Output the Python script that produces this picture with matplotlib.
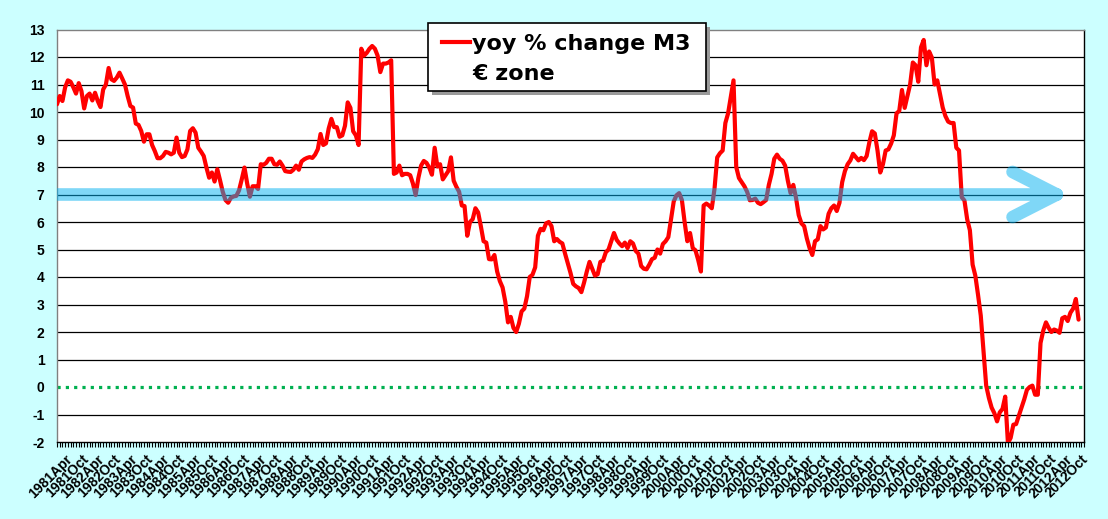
import matplotlib
matplotlib.use("Agg")
import matplotlib.pyplot as plt
import numpy as np
from matplotlib.path import Path
from matplotlib.patches import PathPatch, Rectangle
from matplotlib.lines import Line2D

# ---- data: yoy % change of M3, euro zone, monthly from 1981 Apr ----
m3_yoy = [
    10.28, 10.58, 10.4, 10.9, 11.15, 11.1, 10.9, 10.67, 11.05, 10.76,
    10.13, 10.58, 10.67, 10.42, 10.7, 10.4, 10.18, 10.82, 11.0, 11.6,
    11.19, 11.13, 11.25, 11.43, 11.22, 11.0, 10.58, 10.22, 10.16, 9.58,
    9.53, 9.31, 8.92, 9.19, 9.19, 8.8, 8.58, 8.32, 8.32, 8.4,
    8.55, 8.52, 8.46, 8.52, 9.07, 8.52, 8.36, 8.4, 8.64, 9.31,
    9.41, 9.25, 8.7, 8.56, 8.4, 7.98, 7.61, 7.8, 7.47, 7.92,
    7.52, 7.1, 6.8, 6.7, 6.88, 6.93, 6.95, 7.15, 7.55, 7.98,
    7.4, 6.92, 7.3, 7.3, 7.2, 8.1, 8.08, 8.15, 8.3, 8.3,
    8.1, 8.08, 8.2, 8.05, 7.85, 7.83, 7.82, 7.9, 8.05, 7.9,
    8.2, 8.28, 8.33, 8.36, 8.33, 8.45, 8.65, 9.2, 8.8, 8.86,
    9.4, 9.75, 9.45, 9.45, 9.1, 9.15, 9.5, 10.35, 10.15, 9.3,
    9.15, 8.8, 12.3, 12.05, 12.15, 12.3, 12.4, 12.3, 12.05, 11.45,
    11.76, 11.76, 11.8, 11.88, 7.75, 7.8, 8.05, 7.7, 7.75, 7.75,
    7.7, 7.4, 6.98, 7.6, 8.05, 8.22, 8.15, 7.98, 7.72, 8.7,
    8.02, 8.1, 7.55, 7.7, 7.85, 8.35, 7.5, 7.28, 7.1, 6.6,
    6.58, 5.5, 6.0, 6.1, 6.5, 6.35, 5.85, 5.3, 5.25, 4.65,
    4.64, 4.8, 4.2, 3.85, 3.62, 3.1, 2.35, 2.55, 2.15, 2.0,
    2.3, 2.75, 2.85, 3.3, 4.0, 4.08, 4.35, 5.5, 5.75, 5.7,
    5.95, 6.0, 5.85, 5.3, 5.38, 5.28, 5.22, 4.85, 4.5, 4.15,
    3.75, 3.66, 3.6, 3.45, 3.8, 4.2, 4.55, 4.3, 4.05, 4.1,
    4.55, 4.6, 4.9, 5.0, 5.3, 5.6, 5.35, 5.22, 5.12, 5.25,
    5.05, 5.3, 5.22, 4.95, 4.85, 4.4, 4.3, 4.28, 4.45, 4.65,
    4.7, 5.0, 4.85, 5.2, 5.3, 5.45, 6.1, 6.75, 6.97, 7.05,
    6.8, 6.0, 5.3, 5.6, 5.05, 4.97, 4.62, 4.2, 6.6, 6.67,
    6.6, 6.5, 7.2, 8.35, 8.5, 8.6, 9.6, 9.95, 10.55, 11.15,
    8.0, 7.6, 7.45, 7.3, 7.1, 6.79, 6.8, 6.85, 6.7, 6.65,
    6.72, 6.8, 7.35, 7.75, 8.3, 8.45, 8.3, 8.23, 8.05, 7.5,
    7.05, 7.35, 6.88, 6.25, 5.95, 5.85, 5.4, 5.05, 4.8, 5.3,
    5.37, 5.85, 5.73, 5.8, 6.3, 6.5, 6.6, 6.4, 6.7, 7.45,
    7.85, 8.1, 8.24, 8.48, 8.36, 8.24, 8.33, 8.25, 8.4, 8.9,
    9.3, 9.22, 8.6, 7.8, 8.1, 8.6, 8.64, 8.85, 9.15, 9.95,
    10.04, 10.8, 10.15, 10.58, 11.0, 11.8, 11.7, 11.1, 12.35, 12.62,
    11.7, 12.2, 11.98, 11.0, 11.15, 10.65, 10.16, 9.85, 9.65, 9.6,
    9.6, 8.7, 8.6, 6.9, 6.78, 6.1, 5.7, 4.45, 4.05, 3.35,
    2.6, 1.3, 0.05, -0.4, -0.75, -0.95, -1.25, -0.92, -0.8, -0.35,
    -2.04, -1.85, -1.37, -1.35, -1.05, -0.74, -0.45, -0.1, 0.0, 0.05,
    -0.28, -0.28, 1.6, 2.05, 2.35, 2.15, 2.0, 2.09, 2.05, 1.97,
    2.5, 2.55, 2.4, 2.7, 2.85, 3.2, 2.45,
]
tick_labels = [f"{yr}{mo}" for yr in range(1981, 2013) for mo in ("Apr", "Oct")]
y_ticks = list(range(-2, 14))
legend_lines = ["yoy % change M3", "\u20ac zone"]
arrow_level = 7.0
zero_level = 0.0

W, H = 1108, 519
fig = plt.figure(figsize=(W / 100, H / 100), dpi=100, facecolor="#CCFFFF")
ax = fig.add_axes([57 / W, 1 - 442 / H, (1084 - 57) / W, (442 - 29.5) / H])
ax.set_facecolor("white")

n_months = 6 * (len(tick_labels) - 1)
months = np.arange(len(m3_yoy))
ax.set_xlim(0, n_months)
ax.set_ylim(y_ticks[0], y_ticks[-1])

# gridlines
for v in y_ticks[1:-1]:
    if v != zero_level:
        ax.axhline(v, color="black", lw=0.9, zorder=1)

# zero line (green dotted)
ax.axhline(zero_level, color="#00B050", lw=2.3, ls=(0, (1, 1.6)), zorder=2)

# data line
ax.plot(months, m3_yoy, color="#FF0000", lw=3.0, zorder=3,
        solid_joinstyle="round", solid_capstyle="round")

# translucent arrow at the 7 % level
tip_x, back_x, half_h = 368.0, 351.7, 0.82
verts = [(-10, arrow_level), (tip_x, arrow_level),
         (back_x, arrow_level + half_h), (tip_x, arrow_level), (back_x, arrow_level - half_h)]
codes = [Path.MOVETO, Path.LINETO, Path.MOVETO, Path.LINETO, Path.LINETO]
arrow = PathPatch(Path(verts, codes), fill=False, lw=9.1,
                  edgecolor=(0.0, 0.69, 0.94, 0.5), capstyle="round", joinstyle="round",
                  zorder=4)
ax.add_patch(arrow)

# axes styling
ax.set_xticks(np.arange(0, n_months + 1, 6))
ax.set_xticks(np.arange(0, n_months + 1, 1), minor=True)
ax.set_xticklabels([])
ax.tick_params(axis="x", which="both", length=3.5, width=0.8, color="black",
               direction="out")
ax.set_yticks(y_ticks)
ax.set_yticklabels([str(v) for v in y_ticks], fontsize=10, fontweight="bold",
                   family="Liberation Sans")
ax.tick_params(axis="y", length=0, pad=9)
ax.spines["left"].set_color("#808080")
ax.spines["top"].set_color("#808080")
ax.spines["right"].set_color("black")
ax.spines["bottom"].set_color("black")
for s in ax.spines.values():
    s.set_linewidth(1.0)


def fpx(x, y):
    return x / W, 1 - y / H


# category labels, spread the way the spreadsheet lays them out
lab_first, lab_last, lab_top = 65.2, 1081.2, 452.0
n_lab = len(tick_labels)
for i, lab in enumerate(tick_labels):
    lx = lab_first + (lab_last - lab_first) * i / (n_lab - 1)
    fx, fy = fpx(lx, lab_top)
    fig.text(fx, fy, lab, rotation=45, ha="right", va="top", rotation_mode="anchor",
             fontsize=10, fontweight="bold", family="Liberation Sans")

# manual legend box with shadow
bx, by, bw, bh = 428, 23, 278, 68
shadow = Rectangle(fpx(bx + 4, by + bh + 4), bw / W, bh / H, transform=fig.transFigure,
                   facecolor="#9A9A9A", edgecolor="none", zorder=5)
box = Rectangle(fpx(bx, by + bh), bw / W, bh / H, transform=fig.transFigure,
                facecolor="white", edgecolor="black", lw=1.2, zorder=6)
fig.patches.extend([shadow, box])
x0, y0 = fpx(442, 41.5)
x1, _ = fpx(470, 41.5)
fig.lines.append(Line2D([x0, x1], [y0, y0], transform=fig.transFigure,
                        color="#FF0000", lw=3.0, zorder=7))
for i, txt in enumerate(legend_lines):
    tx, ty = fpx(472, 50 + 30 * i)
    fig.text(tx, ty, txt, fontsize=16, fontweight="bold", family="DejaVu Sans",
             va="baseline", ha="left", zorder=8)

fig.savefig("out.png", dpi=100, facecolor=fig.get_facecolor())
